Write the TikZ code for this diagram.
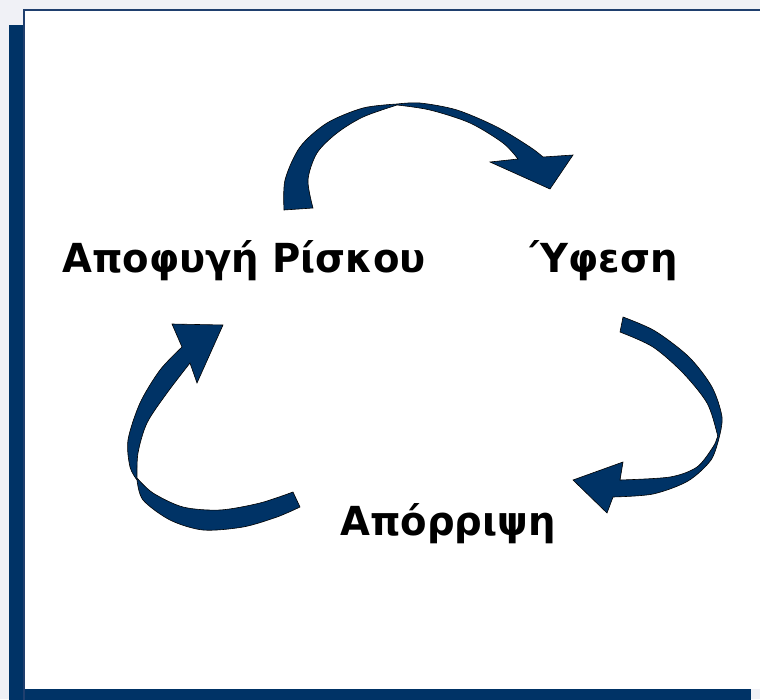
\documentclass[tikz,border=0pt]{standalone}
\usepackage{fontspec}
\setmainfont{DejaVu Sans}[FakeStretch=0.965]
\definecolor{navy}{RGB}{0,51,102}
\definecolor{bgc}{RGB}{240,241,246}
\definecolor{edge}{RGB}{31,63,110}
\tikzset{
  ribbon/.style={fill=navy, draw=black, line width=0.6pt, line join=miter},
  lbl/.style={font=\fontsize{40}{44}\selectfont\bfseries, inner sep=0pt, anchor=base west}
}
\begin{document}
\begin{tikzpicture}[x=1pt,y=-1pt]
\useasboundingbox (0,0) rectangle (760,699);
\clip (0,0) rectangle (760,699);
\fill[bgc] (0,0) rectangle (760,699);
\fill[navy] (9,25) rectangle (751,710);
\fill[white] (24,9) rectangle (775,689);
\draw[edge, line width=2pt] (24,707) -- (24,10) -- (775,10);

% top arrow
\draw[ribbon] plot[smooth] coordinates {(284,210) (285,180) (300,147) (327,123) (363,108) (397,104)}
  -- plot[smooth] coordinates {(397,104) (420,103) (457,110) (497,127) (530,147) (543,157)}
  -- (573,155) -- (550,189) -- (490,162) -- (518,159)
  -- plot[smooth] coordinates {(518,159) (503,143) (470,123) (430,110) (397,105)}
  -- plot[smooth] coordinates {(397,105) (363,117) (337,133) (317,153) (308,180) (313,208)}
  -- cycle;

% right arrow
\draw[ribbon] plot[smooth] coordinates {(623,317) (655,331) (689,357) (712,387) (722,417) (719,438)}
  -- plot[smooth] coordinates {(719,438) (711,460) (688,481) (653,494) (613,497)}
  -- (607,513) -- (573,480) -- (623,462) -- (620,480)
  -- plot[smooth] coordinates {(620,480) (670,477) (697,467) (713,447) (717,438)}
  -- plot[smooth] coordinates {(717,438) (717,433) (707,403) (683,373) (653,347) (620,332)}
  -- cycle;

% left arrow
\draw[ribbon] plot[smooth] coordinates {(300,507) (277,517) (243,527) (203,530) (170,520) (143,500) (137,480)}
  -- plot[smooth] coordinates {(137,480) (130,467) (128,440) (140,403) (160,370) (182,347)}
  -- (172,324) -- (223,325) -- (197,383) -- (190,363)
  -- plot[smooth] coordinates {(190,363) (167,393) (147,423) (138,453) (137,478)}
  -- plot[smooth] coordinates {(137,478) (153,493) (183,507) (220,510) (260,503) (293,492)}
  -- cycle;

\node[lbl] (risk) at (62,272) {Αποφυγή Ρίσκου};
\node[lbl, anchor=base east] (ufesi) at (678,272) {Ύφεση};
\node[lbl] (aporr) at (340,535) {Απόρριψη};
\end{tikzpicture}
\end{document}
